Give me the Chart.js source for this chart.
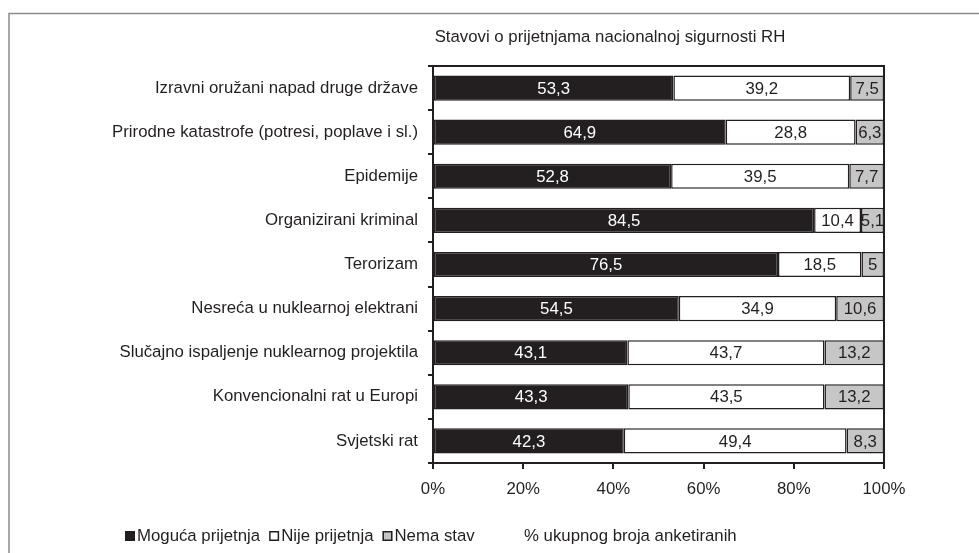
<!DOCTYPE html>
<html>
<head>
<meta charset="utf-8">
<script src="https://cdn.jsdelivr.net/npm/chart.js@4.4.1/dist/chart.umd.min.js"></script>
<style>
  html, body { margin: 0; padding: 0; background: #ffffff; }
  #wrap { position: relative; width: 979px; height: 553px; }
  canvas { display: block; }
</style>
</head>
<body>
<div id="wrap"><canvas id="c" width="979" height="553"></canvas></div>
<script>
// ---- Data ----
const categories = [
  'Izravni oružani napad druge države',
  'Prirodne katastrofe (potresi, poplave i sl.)',
  'Epidemije',
  'Organizirani kriminal',
  'Terorizam',
  'Nesreća u nuklearnoj elektrani',
  'Slučajno ispaljenje nuklearnog projektila',
  'Konvencionalni rat u Europi',
  'Svjetski rat'
];
const mogucaPrijetnja = [53.3, 64.9, 52.8, 84.5, 76.5, 54.5, 43.1, 43.3, 42.3];
const nijePrijetnja   = [39.2, 28.8, 39.5, 10.4, 18.5, 34.9, 43.7, 43.5, 49.4];
const nemaStav        = [7.5, 6.3, 7.7, 5.1, 5, 10.6, 13.2, 13.2, 8.3];
const seriesNames = ['Moguća prijetnja', 'Nije prijetnja', 'Nema stav'];
const xTickValues = [0, 20, 40, 60, 80, 100];
const chartTitle = 'Stavovi o prijetnjama nacionalnoj sigurnosti RH';
const axisNote = '% ukupnog broja anketiranih';

// ---- Styles ----
const FONT = '"Liberation Sans", Arial, Helvetica, sans-serif';
const FS = 16.8;
const INK = '#231f20';
const colors = ['#231f20', '#ffffff', '#c6c6c6'];
const labelColors = ['#ffffff', INK, INK];

const seriesData = [mogucaPrijetnja, nijePrijetnja, nemaStav];

const decorPlugin = {
  id: 'decor',
  beforeDraw(chart) {
    const ctx = chart.ctx;
    ctx.save();
    // outer frame (top and left edges visible)
    ctx.strokeStyle = '#8c8c8c';
    ctx.lineWidth = 1.5;
    ctx.beginPath();
    ctx.moveTo(979, 13.5);
    ctx.lineTo(9, 13.5);
    ctx.lineTo(9, 553);
    ctx.stroke();
    ctx.restore();
  },
  afterDatasetsDraw(chart) {
    const ctx = chart.ctx;
    const ca = chart.chartArea;
    ctx.save();
    // plot-area top and right border
    ctx.strokeStyle = INK;
    ctx.lineWidth = 2;
    ctx.beginPath();
    ctx.moveTo(ca.left, ca.top);
    ctx.lineTo(ca.right, ca.top);
    ctx.lineTo(ca.right, ca.bottom);
    ctx.stroke();

    // value labels
    ctx.font = FS + 'px ' + FONT;
    ctx.textAlign = 'center';
    ctx.textBaseline = 'middle';
    chart.data.datasets.forEach((ds, di) => {
      const meta = chart.getDatasetMeta(di);
      meta.data.forEach((el, i) => {
        const v = ds.data[i];
        const cx = (el.x + el.base) / 2;
        ctx.fillStyle = labelColors[di];
        ctx.fillText(String(v).replace('.', ','), cx, el.y + 1);
      });
    });
    ctx.restore();
  },
  afterDraw(chart) {
    const ctx = chart.ctx;
    ctx.save();
    ctx.font = FS + 'px ' + FONT;
    ctx.fillStyle = INK;
    ctx.textBaseline = 'middle';
    // title
    ctx.textAlign = 'center';
    ctx.fillText(chartTitle, 610, 37);
    // legend
    ctx.textAlign = 'left';
    let x = 125;
    const ly = 536;
    seriesNames.forEach((name, i) => {
      ctx.fillStyle = colors[i];
      ctx.fillRect(x, ly - 5, 10, 10);
      ctx.strokeStyle = INK;
      ctx.lineWidth = 1.5;
      ctx.strokeRect(x + 0.75, ly - 4.25, 8.5, 8.5);
      ctx.fillStyle = INK;
      ctx.fillText(name, x + 12, ly);
      x += 12 + ctx.measureText(name).width + 9;
    });
    // axis note
    ctx.fillText(axisNote, 524, ly);
    ctx.restore();
  }
};

new Chart(document.getElementById('c'), {
  type: 'bar',
  data: {
    labels: categories,
    datasets: seriesNames.map((name, i) => ({
      label: name,
      data: seriesData[i],
      backgroundColor: colors[i],
      borderColor: INK,
      borderWidth: 1.5,
      borderSkipped: false,
      barPercentage: 0.57,
      categoryPercentage: 1
    }))
  },
  options: {
    indexAxis: 'y',
    responsive: false,
    animation: false,
    devicePixelRatio: 1,
    layout: { padding: { top: 66, right: 95, left: 0, bottom: 0 } },
    plugins: {
      legend: { display: false },
      title: { display: false },
      tooltip: { enabled: false }
    },
    scales: {
      x: {
        stacked: true,
        min: 0,
        max: 100,
        afterFit(scale) { scale.height = 90; },
        afterBuildTicks(scale) { scale.ticks = xTickValues.map(v => ({ value: v })); },
        ticks: {
          callback: v => v + '%',
          color: INK,
          font: { family: FONT, size: FS },
          padding: 10,
          maxRotation: 0
        },
        grid: {
          drawOnChartArea: false,
          drawTicks: true,
          tickLength: 6,
          color: INK,
          lineWidth: 2
        },
        border: { display: true, color: INK, width: 2 }
      },
      y: {
        stacked: true,
        offset: true,
        afterFit(scale) { scale.width = 433; },
        ticks: {
          color: INK,
          font: { family: FONT, size: FS },
          padding: 10,
          autoSkip: false
        },
        grid: {
          offset: true,
          drawOnChartArea: false,
          drawTicks: true,
          tickLength: 5,
          color: INK,
          lineWidth: 2
        },
        border: { display: true, color: INK, width: 2 }
      }
    }
  },
  plugins: [decorPlugin]
});
</script>
</body>
</html>
